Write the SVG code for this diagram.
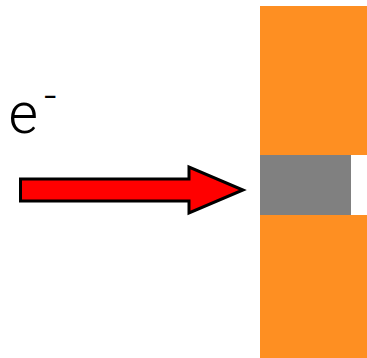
<svg xmlns="http://www.w3.org/2000/svg" width="367" height="358" viewBox="0 0 367 358">
  <style>
    .label { font-family: Roboto, "Liberation Sans", sans-serif; font-weight: 300; fill: #000; }
  </style>
  <rect width="367" height="358" fill="#fff"/>
  <g id="wall">
    <rect x="260" y="6" width="107" height="352" fill="#fe8f22"/>
  </g>
  <g id="gap">
    <rect x="260" y="155" width="107" height="60" fill="#fff"/>
    <rect x="260" y="155" width="91" height="60" fill="#808080"/>
  </g>
  <g id="electron">
    <text class="label" x="8.5" y="132.5" font-size="57">e<tspan x="44" y="111" font-size="44">-</tspan></text>
  </g>
  <g id="connectors">
    <polygon points="20.5,179 189,179 189,167 243,190 189,213 189,201 20.5,201" fill="#ff0000" stroke="#000" stroke-width="3" stroke-linejoin="miter"/>
  </g>
</svg>
